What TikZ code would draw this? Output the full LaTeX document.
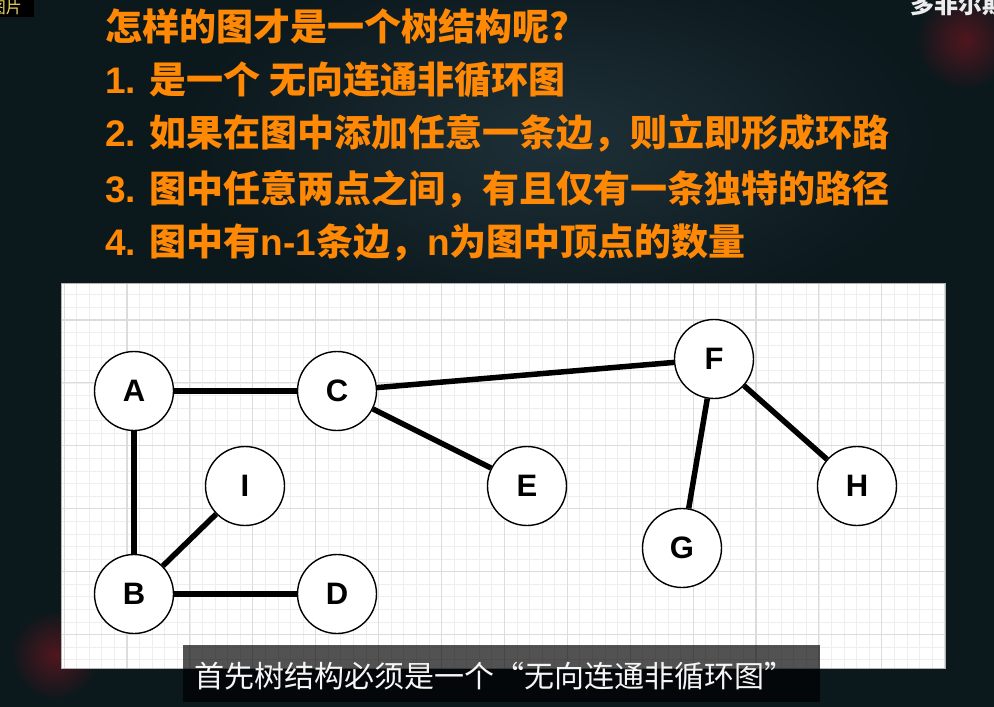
\documentclass[tikz,border=0pt]{standalone}
\usepackage{fontspec}
\setmainfont{Liberation Sans}
\newfontfamily\cjk{Noto Sans CJK SC}
\newfontfamily\lat{Liberation Sans}
\definecolor{bgdark}{RGB}{11,24,28}
\definecolor{bgmid}{RGB}{30,48,56}
\definecolor{glowred}{RGB}{80,22,30}
\definecolor{hint}{RGB}{255,136,5}
\definecolor{gridminor}{RGB}{238,238,238}
\definecolor{gridmajor}{RGB}{220,220,220}
\definecolor{tagyellow}{RGB}{235,215,90}
\begin{document}
\begin{tikzpicture}[x=1pt,y=-1pt,
  vtx/.style={circle,draw=black,line width=1.4pt,fill=white,minimum size=79pt,inner sep=0pt,
    font=\fontsize{31}{31}\selectfont\bfseries},
  edge/.style={line width=5.5pt,black},
  minorline/.style={gridminor,line width=0.8pt},
  majorline/.style={gridmajor,line width=1.1pt},
  hintline/.style={anchor=base west,inner sep=0pt,text=hint,
    font=\cjk\bfseries\fontsize{37}{40}\selectfont},
]
\useasboundingbox (0,0) rectangle (994,707);
\clip (0,0) rectangle (994,707);

% dark backdrop with soft glows
\fill[bgdark] (0,0) rectangle (994,707);
\shade[inner color=bgmid,outer color=bgdark] (560,140) ellipse (380 and 190);
\shade[inner color=glowred,outer color=bgdark] (55,655) circle (45);
\shade[inner color=glowred,outer color=bgdark] (965,40) circle (50);

% corner tags
\fill[black] (0,0) rectangle (34,17);
\node[anchor=base east,inner sep=0pt,text=tagyellow,font=\cjk\fontsize{16}{16}\selectfont] (tagl) at (22,13) {图片};
\node[anchor=base west,inner sep=0pt,text=white!85!gray,font=\cjk\bfseries\fontsize{24}{24}\selectfont] (tagr) at (910,13) {多非尔斯};

% heading lines
\node[hintline] (t0) at (105,40)  {怎样的图才是一个树结构呢?};
\node[hintline] (t1) at (105,93)  {{\lat\bfseries 1. }是一个 无向连通非循环图};
\node[hintline] (t2) at (105,146) {{\lat\bfseries 2. }如果在图中添加任意一条边，则立即形成环路};
\node[hintline] (t3) at (105,202) {{\lat\bfseries 3. }图中任意两点之间，有且仅有一条独特的路径};
\node[hintline] (t4) at (105,255) {{\lat\bfseries 4. }图中有{\lat\bfseries n-1}条边，{\lat\bfseries n}为图中顶点的数量};

% white grid panel
\fill[white] (61,283) rectangle (945,668);
\begin{scope}
  \clip (61,283) rectangle (945,668);
  \foreach \i in {0,...,71} \draw[minorline] ({64.1+12.58*\i},283) -- ++(0,385);
  \foreach \i in {0,...,31} \draw[minorline] (61,{282.3+12.58*\i}) -- ++(884,0);
  \foreach \i in {-1,...,14} \draw[majorline] ({127+62.9*\i},283) -- ++(0,385);
  \foreach \i in {-1,...,6} \draw[majorline] (61,{320+62.9*\i}) -- ++(884,0);
\end{scope}
\draw[gray!60,line width=0.8pt] (61,283) rectangle (945,668);

% vertices
\node[vtx] (A) at (134,391) {A};
\node[vtx] (C) at (337,391) {C};
\node[vtx] (I) at (245,486) {I};
\node[vtx] (E) at (527,486) {E};
\node[vtx] (F) at (714,359) {F};
\node[vtx] (H) at (857,486) {H};
\node[vtx] (G) at (682,548) {G};
\node[vtx] (B) at (134,594) {B};
\node[vtx] (D) at (337,594) {D};

% edges
\draw[edge] (A) -- (C);
\draw[edge] (A) -- (B);
\draw[edge] (B) -- (I);
\draw[edge] (B) -- (D);
\draw[edge] (C) -- (F);
\draw[edge] (C) -- (E);
\draw[edge] (F) -- (G);
\draw[edge] (F) -- (H);

% caption bar
\fill[black,opacity=0.68] (183,645) rectangle (820,702);
\node[anchor=base west,inner sep=0pt,text=white!92!gray,font=\cjk\fontsize{30}{31}\selectfont] (cap) at (194,687) {首先树结构必须是一个“无向连通非循环图”};
\end{tikzpicture}
\end{document}
